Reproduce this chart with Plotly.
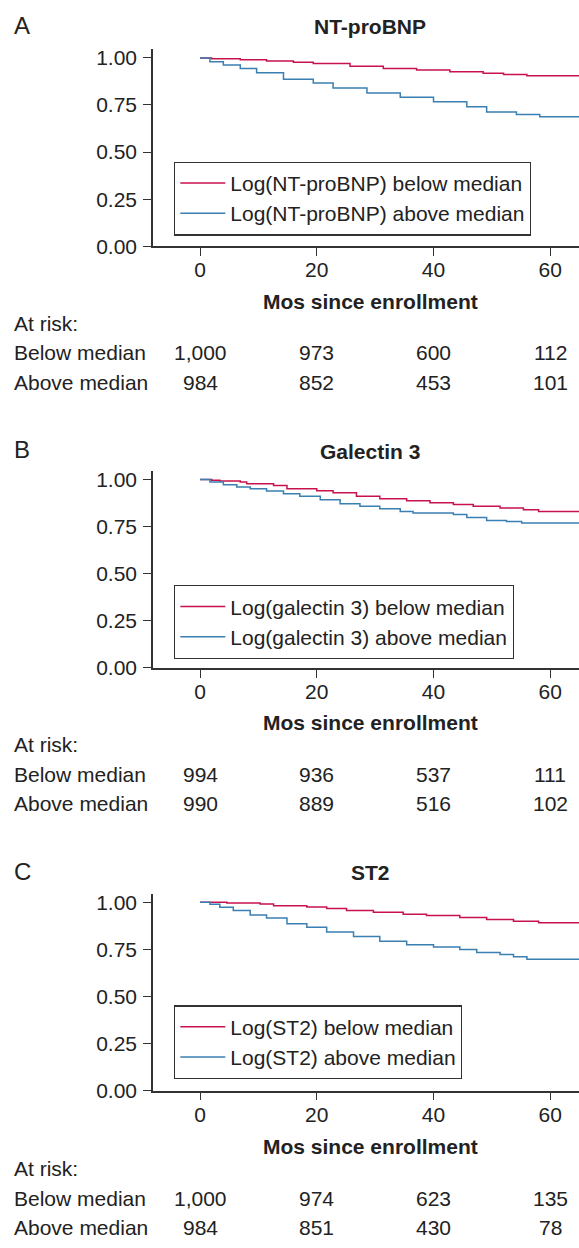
import plotly.graph_objects as go

# ---------------- data ----------------
panel_letters = ["A", "B", "C"]
panel_titles = ["NT-proBNP", "Galectin 3", "ST2"]
legend_below = ["Log(NT-proBNP) below median", "Log(galectin 3) below median", "Log(ST2) below median"]
legend_above = ["Log(NT-proBNP) above median", "Log(galectin 3) above median", "Log(ST2) above median"]

x_ticks = [0, 20, 40, 60]
y_ticks = [0, 0.25, 0.5, 0.75, 1.0]
y_tick_labels = ["0.00", "0.25", "0.50", "0.75", "1.00"]

# Panel A (NT-proBNP)
a_below_t = [0, 2.0, 6.9, 11.4, 16.0, 19.4, 25.7, 31.4, 37.1, 42.8, 48.5, 52.0, 56.0, 66]
a_below_s = [1.0, 0.995, 0.99, 0.984, 0.977, 0.970, 0.956, 0.944, 0.935, 0.927, 0.918, 0.912, 0.905, 0.905]
a_above_t = [0, 1.7, 4.0, 6.9, 9.7, 14.3, 19.4, 22.8, 28.6, 34.3, 40.0, 45.7, 49.1, 54.2, 58.2, 66]
a_above_s = [1.0, 0.979, 0.962, 0.944, 0.921, 0.887, 0.866, 0.840, 0.814, 0.791, 0.767, 0.741, 0.713, 0.699, 0.688, 0.688]

# Panel B (Galectin 3)
b_below_t = [0, 2.0, 3.4, 6.9, 8.0, 12.6, 14.9, 20.0, 22.8, 26.8, 30.8, 35.4, 39.4, 43.4, 46.8, 51.4, 55.4, 58.0, 66]
b_below_s = [1.0, 0.996, 0.991, 0.986, 0.977, 0.968, 0.951, 0.940, 0.929, 0.911, 0.897, 0.887, 0.876, 0.867, 0.858, 0.848, 0.839, 0.830, 0.830]
b_above_t = [0, 1.7, 4.0, 6.3, 8.6, 11.4, 14.3, 17.1, 20.6, 24.0, 27.4, 30.8, 34.3, 36.5, 43.4, 45.7, 49.1, 52.5, 55.1, 66]
b_above_s = [1.0, 0.986, 0.972, 0.959, 0.951, 0.938, 0.924, 0.910, 0.892, 0.871, 0.858, 0.844, 0.830, 0.821, 0.814, 0.798, 0.782, 0.777, 0.768, 0.768]

# Panel C (ST2)
c_below_t = [0, 4.6, 10.3, 12.6, 18.3, 21.7, 25.1, 29.7, 34.8, 38.8, 44.5, 49.1, 53.7, 58.0, 66]
c_below_s = [1.0, 0.996, 0.991, 0.982, 0.975, 0.967, 0.956, 0.947, 0.937, 0.930, 0.919, 0.909, 0.900, 0.892, 0.892]
c_above_t = [0, 1.7, 3.4, 5.7, 8.6, 11.4, 14.9, 18.3, 21.7, 26.3, 30.8, 35.4, 40.0, 44.5, 47.4, 51.4, 53.7, 56.0, 66]
c_above_s = [1.0, 0.989, 0.974, 0.956, 0.933, 0.916, 0.886, 0.868, 0.842, 0.819, 0.793, 0.775, 0.763, 0.749, 0.733, 0.723, 0.711, 0.697, 0.697]

# Numbers at risk at months 0, 20, 40, 60
risk_below = [["1,000", "973", "600", "112"], ["994", "936", "537", "111"], ["1,000", "974", "623", "135"]]
risk_above = [["984", "852", "453", "101"], ["990", "889", "516", "102"], ["984", "851", "430", "78"]]

below_t = [a_below_t, b_below_t, c_below_t]
below_s = [a_below_s, b_below_s, c_below_s]
above_t = [a_above_t, b_above_t, c_above_t]
above_s = [a_above_s, b_above_s, c_above_s]

# ---------------- style / layout ----------------
W, H = 579, 1248
FONT = "Liberation Sans, Arial, Helvetica, sans-serif"
TXT = "#222222"
AX = "#333333"
RED = "#c8124c"
BLUE = "#3a7fb2"

def px(x):
    return x / W

def py(y):
    return 1 - y / H

# pixel positions per panel
zero_px = [246, 672.3, 1100]
unit_px = 190.5
y_top_val = 1.045
title_px = [24.0, 453.3, 879.8]
letter_px = [23.0, 451.8, 878.5]
xlab_px = [302.3, 728, 1156.2]
atrisk_px = [324, 750, 1179.2]
legend_top_px = [160.3, 588.7, 1013.7]
x_left_px = 153
x_range = [-8.05, 64.92]

fig = go.Figure()
annotations = []

for i in range(3):
    n = "" if i == 0 else str(i + 1)
    xa = "x" + n
    ya = "y" + n
    lg = "legend" + n
    fig.add_trace(go.Scatter(x=below_t[i], y=below_s[i], mode="lines", line_shape="hv",
                             line=dict(color=RED, width=1.5), name=legend_below[i],
                             xaxis=xa, yaxis=ya, legend=lg, hoverinfo="skip"))
    fig.add_trace(go.Scatter(x=above_t[i], y=above_s[i], mode="lines", line_shape="hv",
                             line=dict(color=BLUE, width=1.5), name=legend_above[i],
                             xaxis=xa, yaxis=ya, legend=lg, hoverinfo="skip"))

    bottom = zero_px[i]
    top = bottom - unit_px * y_top_val
    axis_common = dict(showgrid=False, zeroline=False, showline=True, linecolor=AX, linewidth=1.5,
                       ticks="outside", ticklen=8, tickwidth=1.3, tickcolor=AX,
                       tickfont=dict(family=FONT, size=21, color=TXT))
    fig.update_layout(**{
        "xaxis" + n: dict(domain=[px(x_left_px), 1], range=x_range, tickvals=x_ticks,
                          anchor=ya, ticklabelstandoff=-4, **axis_common),
        "yaxis" + n: dict(domain=[py(bottom), py(top)], range=[0, y_top_val], tickvals=y_ticks,
                          ticktext=y_tick_labels, anchor=xa, ticklabelstandoff=2, **axis_common),
        lg: dict(x=px(174), xanchor="left", y=py(legend_top_px[i]), yanchor="top",
                 bordercolor=AX, borderwidth=1.3, bgcolor="white", itemwidth=45,
                 font=dict(family=FONT, size=21, color=TXT), tracegroupgap=0,
                 itemclick=False, itemdoubleclick=False),
    })

    annotations.append(dict(text=panel_letters[i], x=px(12), y=py(letter_px[i]), xref="paper", yref="paper",
                            xanchor="left", yanchor="middle", showarrow=False,
                            font=dict(family=FONT, size=24, color=TXT)))
    annotations.append(dict(text="<b>" + panel_titles[i] + "</b>", x=px(370), y=py(title_px[i]),
                            xref="paper", yref="paper", xanchor="center", yanchor="middle", showarrow=False,
                            font=dict(family=FONT, size=21, color=TXT)))
    annotations.append(dict(text="<b>Mos since enrollment</b>", x=px(370), y=py(xlab_px[i]),
                            xref="paper", yref="paper", xanchor="center", yanchor="middle", showarrow=False,
                            font=dict(family=FONT, size=21, color=TXT)))
    rows = [("At risk:", None), ("Below median", risk_below[i]), ("Above median", risk_above[i])]
    for r, (label, vals) in enumerate(rows):
        ypos = py(atrisk_px[i] + 29.8 * r)
        annotations.append(dict(text=label, x=px(12), y=ypos, xref="paper", yref="paper",
                                xanchor="left", yanchor="middle", showarrow=False,
                                font=dict(family=FONT, size=21, color=TXT)))
        if vals:
            for xv, v in zip(x_ticks, vals):
                annotations.append(dict(text=v, x=xv, y=ypos, xref=xa, yref="paper",
                                        xanchor="center", yanchor="middle", showarrow=False,
                                        font=dict(family=FONT, size=21, color=TXT)))

fig.update_layout(width=W, height=H, margin=dict(l=0, r=0, t=0, b=0),
                  paper_bgcolor="white", plot_bgcolor="white",
                  font=dict(family=FONT, size=21, color=TXT),
                  annotations=annotations, showlegend=True)

fig.write_html("out.html", config={"displayModeBar": False},
               post_script="document.body.style.margin='0';document.body.style.overflow='hidden';")
